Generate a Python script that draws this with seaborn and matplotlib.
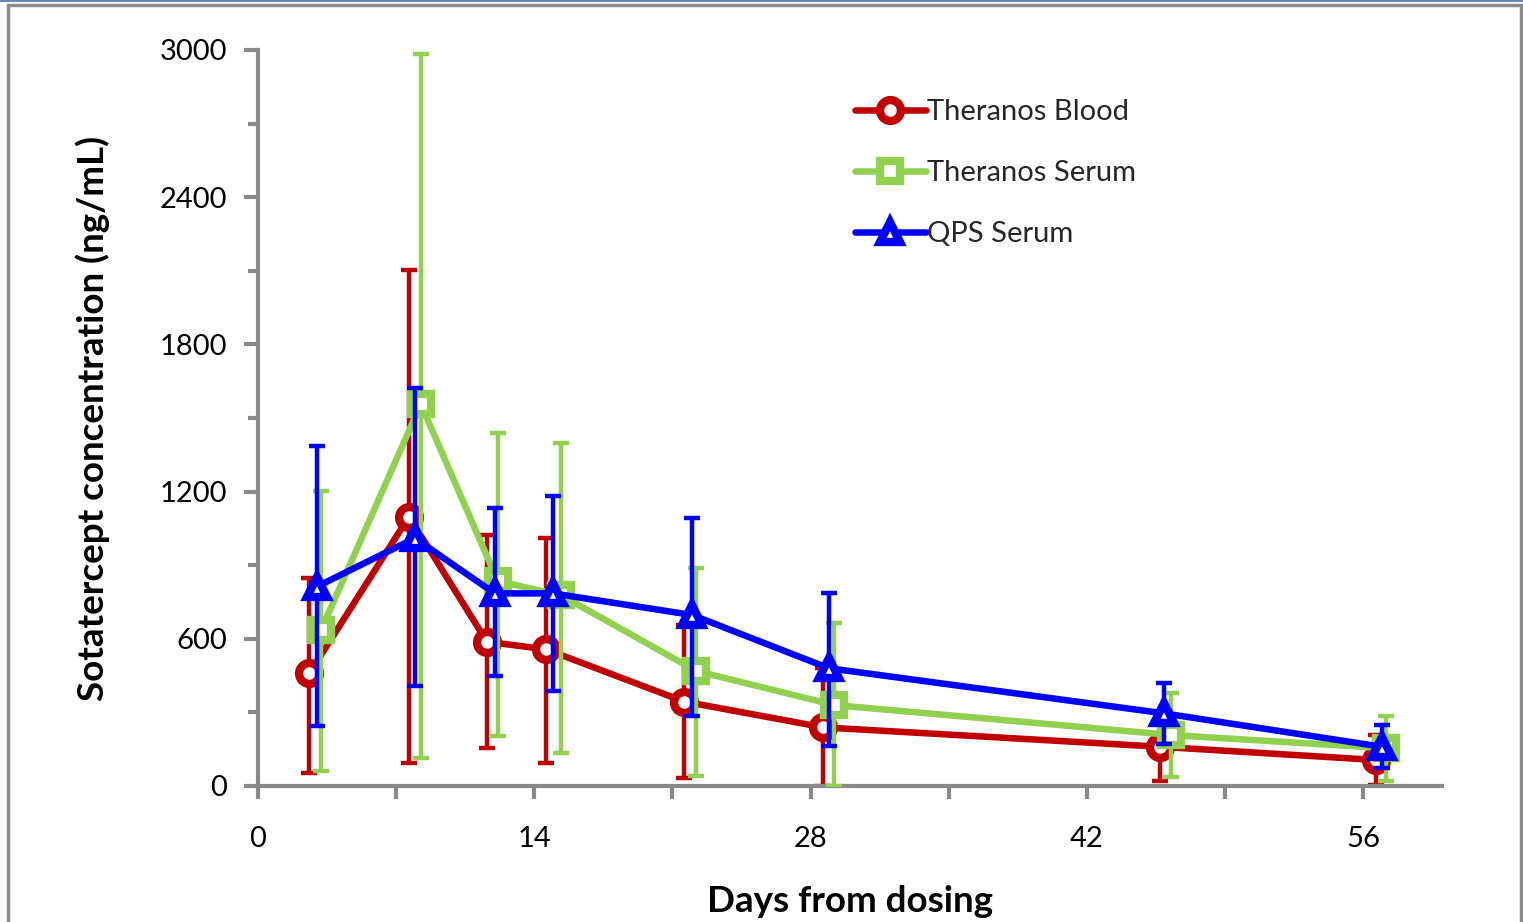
import matplotlib
matplotlib.use("Agg")
import matplotlib.pyplot as plt
from matplotlib.lines import Line2D
from matplotlib.ticker import MultipleLocator
import numpy as np
import pandas as pd
import seaborn as sns

# ---------------- data ----------------
series_names = ["Theranos Blood", "Theranos Serum", "QPS Serum"]

blood_days = [2.6, 7.65, 11.6, 14.6, 21.6, 28.65, 45.7, 56.65]
blood_conc = [459, 1098, 588, 557, 344, 239, 160, 106]
blood_low = [53, 92, 154, 92, 33, 0, 20, 4]
blood_high = [848, 2103, 1023, 1010, 655, 479, 300, 208]

serum_days = [3.2, 8.25, 12.15, 15.35, 22.2, 29.2, 46.25, 57.15]
serum_conc = [636, 1557, 835, 778, 469, 330, 208, 154]
serum_low = [62, 113, 204, 133, 41, 0, 37, 20]
serum_high = [1202, 2984, 1438, 1397, 889, 664, 379, 285]

qps_days = [2.97, 7.95, 12.0, 14.95, 22.0, 28.93, 45.92, 56.95]
qps_conc = [812, 1010, 785, 785, 697, 480, 296, 160]
qps_low = [245, 408, 450, 387, 285, 163, 172, 73]
qps_high = [1387, 1622, 1132, 1183, 1093, 787, 420, 249]

x_ticks = [0, 14, 28, 42, 56]
y_ticks = [0, 600, 1200, 1800, 2400, 3000]

x_label = "Days from dosing"
y_label = "Sotatercept concentration (ng/mL)"

# ---------------- style ----------------
sns.set_theme(style="white")
plt.rcParams["font.family"] = ["Lato", "DejaVu Sans"]

colors = ["#C00000", "#92D050", "#0000FF"]
markers = ["o", "s", "^"]

fig = plt.figure(figsize=(15.23, 9.22), dpi=100)
ax = fig.add_axes([258 / 1523, 1 - 786 / 922, (1442 - 258) / 1523, (786 - 50) / 922])

all_series = [
    (blood_days, blood_conc, blood_low, blood_high),
    (serum_days, serum_conc, serum_low, serum_high),
    (qps_days, qps_conc, qps_low, qps_high),
]

for i, (name, (d, c, lo, hi)) in enumerate(zip(series_names, all_series)):
    d = np.array(d, float)
    c = np.array(c, float)
    lo = np.array(lo, float)
    hi = np.array(hi, float)
    ax.errorbar(d, c, yerr=[c - lo, hi - c], fmt="none", ecolor=colors[i],
                elinewidth=3.2, capsize=6, capthick=3.2, zorder=2 + 2 * i)
    df = pd.DataFrame({"day": d, "conc": c})
    sns.lineplot(data=df, x="day", y="conc", ax=ax, color=colors[i], sort=False,
                 marker=markers[i], markersize=15, markeredgewidth=6,
                 markeredgecolor=colors[i], markerfacecolor="white",
                 linewidth=4.7, label=name, zorder=3 + 2 * i)

# ---------------- axes ----------------
ax.set_xlim(0, 60)
ax.set_ylim(0, 3000)
ax.set_xticks(x_ticks)
ax.set_xticklabels([str(t) for t in x_ticks])
ax.set_yticks(y_ticks)
ax.set_yticklabels([str(t) for t in y_ticks])
ax.xaxis.set_minor_locator(MultipleLocator(7))
ax.yaxis.set_minor_locator(MultipleLocator(300))

spine_c = "#898989"
for s in ["top", "right"]:
    ax.spines[s].set_visible(False)
for s in ["left", "bottom"]:
    ax.spines[s].set_color(spine_c)
    ax.spines[s].set_linewidth(3)

ax.tick_params(axis="both", which="both", color=spine_c, width=3, direction="out",
               labelsize=21, labelcolor="black", bottom=True, left=True,
               top=False, right=False)
ax.tick_params(axis="x", which="major", length=9, pad=20)
ax.tick_params(axis="x", which="minor", length=9)
ax.tick_params(axis="y", which="major", length=10, pad=12)
ax.tick_params(axis="y", which="minor", length=7)
ax.grid(False)

ax.set_xlabel(x_label, fontsize=26.5, fontweight="bold", color="black")
ax.set_ylabel(y_label, fontsize=26.5, fontweight="bold", color="black")
ax.xaxis.set_label_coords(0.5, -0.134)
ax.yaxis.set_label_coords(-0.125, 0.5)

leg = ax.legend(loc="upper left", bbox_to_anchor=(0.494, 0.949), frameon=False,
                fontsize=21, handlelength=2.45, handletextpad=0.05,
                labelspacing=1.2, borderaxespad=0)

# ---------------- frame around the chart area ----------------
border = "#8C8C8C"
fig.add_artist(Line2D([8 / 1523, 8 / 1523], [0, 1 - 5 / 922], transform=fig.transFigure,
                      color=border, lw=2.5))
fig.add_artist(Line2D([8 / 1523, 1521 / 1523], [1 - 5 / 922, 1 - 5 / 922],
                      transform=fig.transFigure, color=border, lw=2.5))
fig.add_artist(Line2D([1521 / 1523, 1521 / 1523], [0, 1 - 5 / 922], transform=fig.transFigure,
                      color=border, lw=2.5))
fig.add_artist(Line2D([0, 1], [1 - 0.8 / 922, 1 - 0.8 / 922], transform=fig.transFigure,
                      color="#4A6EA8", lw=1.2))

fig.savefig("out.png", dpi=100)
